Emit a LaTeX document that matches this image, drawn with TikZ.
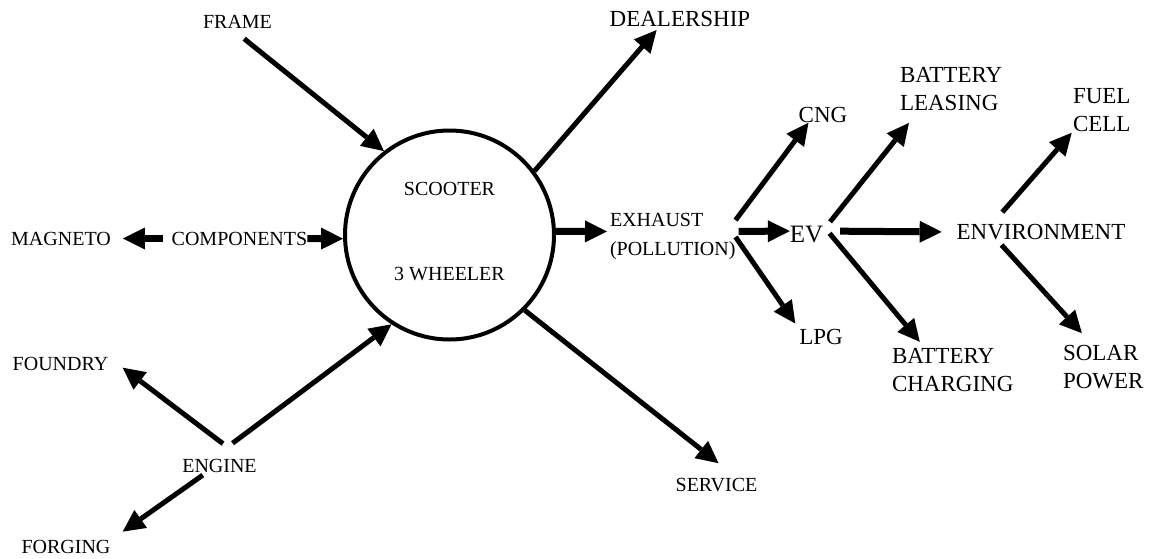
\documentclass[tikz,border=0pt]{standalone}
\usepackage{fontspec}
\setmainfont{Liberation Serif}
\usetikzlibrary{arrows.meta}

\begin{document}
\begin{tikzpicture}[x=1pt, y=-1pt]
\tikzset{
  lbl/.style   ={inner sep=0pt, outer sep=0pt, font=\fontsize{20}{24}\selectfont},
  lblbig/.style={inner sep=0pt, outer sep=0pt, align=left, font=\fontsize{23}{28}\selectfont},
  hubnode/.style={draw, circle, line width=4pt, minimum size=209pt, inner sep=0pt,
                align=center, font=\fontsize{20}{24}\selectfont, text depth=8pt},
  arr/.style ={-{Triangle[length=22pt,width=22pt,line width=0pt]}, line width=5pt},
  harr/.style={arr, line width=7pt}
}
\useasboundingbox (0,0) rectangle (1153,558);
\node (hub)[hubnode] at (449.5,235) {SCOOTER\\[61pt]3 WHEELER};
\node (frame)[lbl] at (237.5,21.5) {FRAME};
\node (dealer)[lblbig] at (680,18.5) {DEALERSHIP};
\node (mag)[lbl] at (61,238.5) {MAGNETO};
\node (comp)[lbl] at (239.5,238.5) {COMPONENTS};
\node (foundry)[lbl] at (60.5,363.5) {FOUNDRY};
\node (engine)[lbl] at (219.5,465.5) {ENGINE};
\node (forging)[lbl] at (66,547) {FORGING};
\node (service)[lbl] at (716.5,484.8) {SERVICE};
\node (exhaust)[lbl, align=left, font=\fontsize{20}{29}\selectfont, anchor=north west] at (610,213.7) {EXHAUST\\(POLLUTION)};
\node (cng)[lblbig] at (823,115) {CNG};
\node (ev)[lblbig, font=\fontsize{25}{30}\selectfont] at (806.5,234) {EV};
\node (lpg)[lblbig] at (821,337) {LPG};
\node (leasing)[lblbig, anchor=north west] at (900,67) {BATTERY\\LEASING};
\node (charging)[lblbig, anchor=north west] at (892,348) {BATTERY\\CHARGING};
\node (env)[lblbig] at (1041,232) {ENVIRONMENT};
\node (fuel)[lblbig, anchor=north west] at (1073,88) {FUEL\\CELL};
\node (solar)[lblbig, anchor=north west] at (1063,345) {SOLAR\\POWER};
\draw[arr, shorten <=17pt] (frame.225) -- (hub.128);
\draw[arr, shorten >=5pt] (hub.37) -- (dealer.201);
\draw[harr, shorten <=9pt, shorten >=12pt] (comp.west) -- (mag.east);
\draw[harr] (comp.east) -- (hub.182);
\draw[arr, shorten <=25pt, shorten >=18pt] (engine.16) -- (foundry.north east);
\draw[arr, shorten <=5pt, shorten >=15pt] (engine.208) -- (forging.north east);
\draw[arr, shorten <=26pt] (engine.139) -- (hub.237);
\draw[arr, shorten >=24pt] (hub.315) -- (service.18);
\draw[harr, shorten >=3pt] (hub.2) -- (exhaust.175);
\draw[arr] (exhaust.15) -- (cng.208);
\draw[harr, shorten <=3pt] (exhaust.5) -- (ev.170);
\draw[arr, shorten >=7pt] (exhaust.east) -- (lpg.north west);
\draw[arr, shorten <=11pt, shorten >=16pt] (ev.12) -- (leasing.214);
\draw[harr, shorten <=17pt, shorten >=15pt] (ev.10) -- (env.west);
\draw[arr, shorten <=10pt, shorten >=8pt] (ev.north east) -- (charging.142);
\draw[arr, shorten <=16pt, shorten >=2pt] (env.171) -- (fuel.south west);
\draw[arr, shorten <=7pt, shorten >=16pt] (env.190) -- (solar.116);
\end{tikzpicture}
\end{document}
